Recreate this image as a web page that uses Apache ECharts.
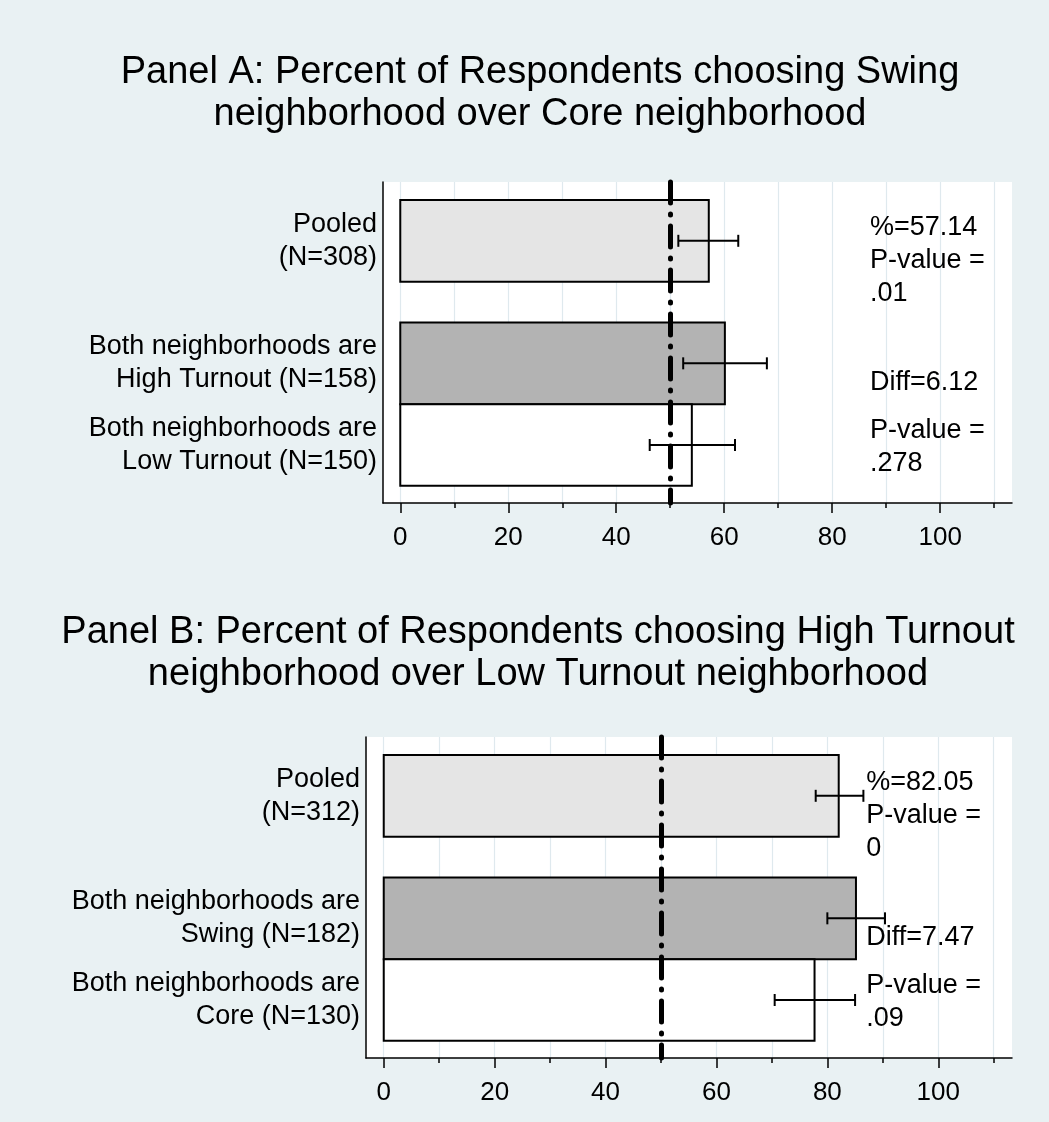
<!DOCTYPE html>
<html>
<head>
<meta charset="utf-8">
<title>Neighborhood choice</title>
<script src="https://cdn.jsdelivr.net/npm/echarts@6/dist/echarts.min.js"></script>
<style>
  html, body { margin: 0; padding: 0; background: #e9f1f3; }
  #chart { width: 1049px; height: 1122px; }
</style>
</head>
<body>
<div id="chart"></div>
<script>
// ---- Data ----------------------------------------------------------------
const titleA = 'Panel A: Percent of Respondents choosing Swing\nneighborhood over Core neighborhood';
const categoriesA = ['Pooled\n(N=308)', 'Both neighborhoods are\nHigh Turnout (N=158)', 'Both neighborhoods are\nLow Turnout (N=150)'];
const percentA = [57.14, 60.12, 54.00];
const ciLowA = [51.5, 52.4, 46.2];
const ciHighA = [62.6, 67.9, 62.0];
const pValuesA = ['.01', '.278'];

const titleB = 'Panel B: Percent of Respondents choosing High Turnout\nneighborhood over Low Turnout neighborhood';
const categoriesB = ['Pooled\n(N=312)', 'Both neighborhoods are\nSwing (N=182)', 'Both neighborhoods are\nCore (N=130)'];
const percentB = [82.05, 85.16, 77.69];
const ciLowB = [77.9, 80.0, 70.5];
const ciHighB = [86.5, 90.4, 85.0];
const pValuesB = ['0', '.09'];

const majorTicks = [0, 20, 40, 60, 80, 100];
const minorTicks = [10, 30, 50, 70, 90, 110];
const referenceValue = 50;

// ---- Layout & style ------------------------------------------------------
const FONT = '"Liberation Sans", Arial, sans-serif';
const GRID_LINE = '#dfe9ee';
const BAR_FILLS = ['#e5e5e5', '#b3b3b3', '#ffffff'];
const X_MIN = -3.2, X_MAX = 113.3;
const Y_MIN = -0.72, Y_MAX = 3.21;
const barSlots = [0, 1.5, 2.5];        // pooled, then the two subgroups stacked together
const noteSlots = [0.24, 1.73, 2.52];
const noteX = 87;

function buildPanel(idx, cats, pct, lo, hi, pv) {
  const xi = idx * 2;
  const xAxes = [
    {
      gridIndex: idx, type: 'value', min: X_MIN, max: X_MAX, position: 'bottom',
      axisLine: { show: true, onZero: false, lineStyle: { color: '#000', width: 1.5 } },
      axisTick: { show: true, customValues: majorTicks, length: 10, lineStyle: { color: '#000', width: 1.5 } },
      axisLabel: { customValues: majorTicks, margin: 22, fontSize: 26, color: '#000', fontFamily: FONT },
      splitLine: { show: true, lineStyle: { color: GRID_LINE, width: 1.2 } }
    },
    {
      gridIndex: idx, type: 'value', min: X_MIN, max: X_MAX, position: 'bottom',
      axisLine: { show: false, onZero: false },
      axisTick: { show: true, customValues: minorTicks, length: 5, lineStyle: { color: '#000', width: 1.5 } },
      axisLabel: { show: false },
      splitLine: { show: true, lineStyle: { color: GRID_LINE, width: 1.2 } }
    }
  ];
  const yAxis = {
    gridIndex: idx, type: 'value', inverse: true, min: Y_MIN, max: Y_MAX,
    axisLine: { show: true, onZero: false, lineStyle: { color: '#000', width: 1.5 } },
    axisTick: { show: false },
    splitLine: { show: false },
    axisLabel: {
      customValues: barSlots,
      formatter: v => cats[barSlots.findIndex(s => Math.abs(s - v) < 1e-6)] || '',
      fontSize: 27, lineHeight: 33, color: '#000', fontFamily: FONT, align: 'right', margin: 6
    }
  };

  const notes = [
    '%=' + pct[0].toFixed(2) + '\nP-value =\n' + pv[0],
    'Diff=' + (pct[1] - pct[2]).toFixed(2),
    'P-value =\n' + pv[1]
  ];

  const series = [
    {
      type: 'custom', xAxisIndex: xi, yAxisIndex: idx, z: 2, silent: true,
      data: pct.map((v, i) => [v, barSlots[i], i]),
      encode: { x: 0, y: 1 },
      renderItem: (params, api) => {
        const v = api.value(0), s = api.value(1), k = api.value(2);
        const p0 = api.coord([0, s - 0.5]);
        const p1 = api.coord([v, s + 0.5]);
        return {
          type: 'rect',
          shape: { x: p0[0], y: p0[1], width: p1[0] - p0[0], height: p1[1] - p0[1] },
          style: { fill: BAR_FILLS[k], stroke: '#000', lineWidth: 2 }
        };
      }
    },
    {
      type: 'line', xAxisIndex: xi, yAxisIndex: idx, z: 3, data: [], silent: true,
      markLine: {
        silent: true, symbol: ['none', 'none'], label: { show: false },
        lineStyle: { color: '#000', width: 5, type: [21, 11, 1, 11], cap: 'round' },
        data: [{ xAxis: referenceValue }]
      }
    },
    {
      type: 'custom', xAxisIndex: xi, yAxisIndex: idx, z: 4, silent: true,
      data: lo.map((l, i) => [l, hi[i], barSlots[i]]),
      encode: { x: [0, 1], y: 2 },
      renderItem: (params, api) => {
        const s = api.value(2);
        const a = api.coord([api.value(0), s]);
        const b = api.coord([api.value(1), s]);
        const cap = 6;
        const st = { stroke: '#000', lineWidth: 2 };
        return {
          type: 'group',
          children: [
            { type: 'line', shape: { x1: a[0], y1: a[1], x2: b[0], y2: b[1] }, style: st },
            { type: 'line', shape: { x1: a[0], y1: a[1] - cap, x2: a[0], y2: a[1] + cap }, style: st },
            { type: 'line', shape: { x1: b[0], y1: b[1] - cap, x2: b[0], y2: b[1] + cap }, style: st }
          ]
        };
      }
    },
    {
      type: 'custom', xAxisIndex: xi, yAxisIndex: idx, z: 5, silent: true,
      data: noteSlots.map(s => [noteX, s]),
      encode: { x: 0, y: 1 },
      renderItem: (params, api) => {
        const p = api.coord([api.value(0), api.value(1)]);
        return {
          type: 'text', x: p[0], y: p[1],
          style: {
            text: notes[params.dataIndex], fill: '#000', font: '27px ' + FONT,
            align: 'left', verticalAlign: 'middle', lineHeight: 33
          }
        };
      }
    }
  ];
  return { xAxes, yAxis, series };
}

const pA = buildPanel(0, categoriesA, percentA, ciLowA, ciHighA, pValuesA);
const pB = buildPanel(1, categoriesB, percentB, ciLowB, ciHighB, pValuesB);

const titleStyle = { fontSize: 38, fontWeight: 'normal', lineHeight: 42, color: '#000', fontFamily: FONT };

const chart = echarts.init(document.getElementById('chart'), null, { renderer: 'canvas' });
chart.setOption({
  backgroundColor: '#e9f1f3',
  animation: false,
  title: [
    { text: titleA, left: 540, top: 52, textAlign: 'center', padding: 0, textStyle: titleStyle },
    { text: titleB, left: 538, top: 612, textAlign: 'center', padding: 0, textStyle: titleStyle }
  ],
  grid: [
    { left: 383, top: 182, width: 629, height: 321, show: true, backgroundColor: '#fff', borderWidth: 0 },
    { left: 366, top: 737, width: 646, height: 321, show: true, backgroundColor: '#fff', borderWidth: 0 }
  ],
  xAxis: pA.xAxes.concat(pB.xAxes),
  yAxis: [pA.yAxis, pB.yAxis],
  series: pA.series.concat(pB.series)
});
</script>
</body>
</html>
